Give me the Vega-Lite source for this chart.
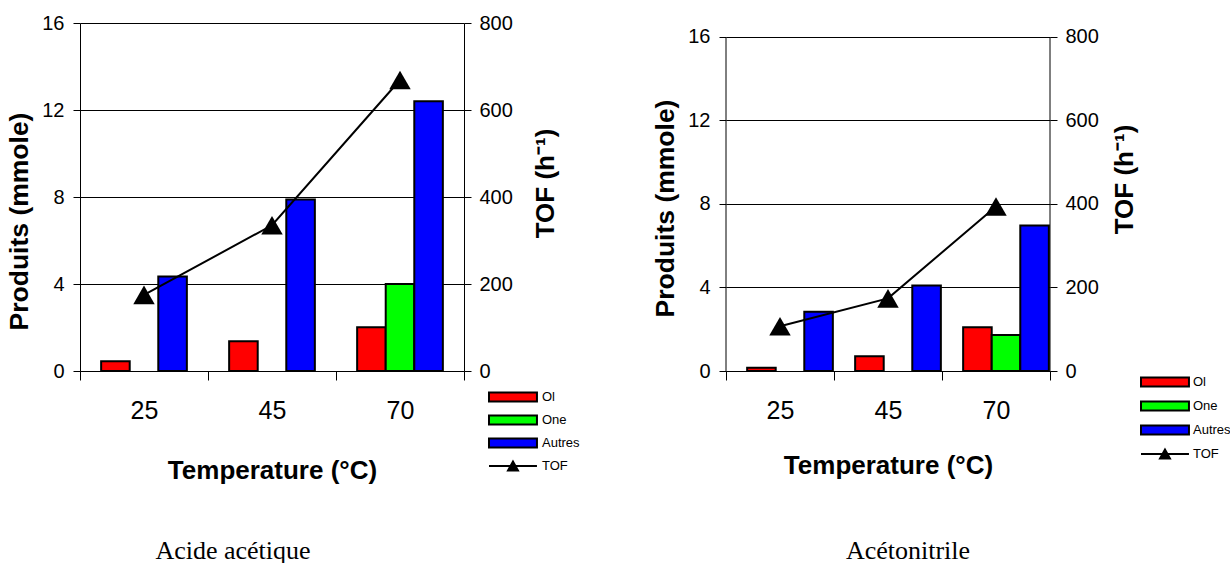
{
  "$schema": "https://vega.github.io/schema/vega-lite/v6.json",
  "background": "white",
  "padding": {"left": 6, "top": 13, "right": 0, "bottom": 0},
  "spacing": 72,
  "config": {
    "view": {"stroke": null},
    "font": "Liberation Sans",
    "axis": {"domainColor": "black", "tickColor": "black", "labelColor": "black", "titleColor": "black", "gridColor": "black", "gridOpacity": 1, "domainWidth": 1, "tickWidth": 1, "gridWidth": 1}
  },
  "datasets": {
    "acide_bars": [
      {"Temp": 25, "Produit": "Ol", "mmole": 0.45},
      {"Temp": 25, "Produit": "Autres", "mmole": 4.35},
      {"Temp": 45, "Produit": "Ol", "mmole": 1.37},
      {"Temp": 45, "Produit": "Autres", "mmole": 7.88},
      {"Temp": 70, "Produit": "Ol", "mmole": 2.01},
      {"Temp": 70, "Produit": "One", "mmole": 4.0},
      {"Temp": 70, "Produit": "Autres", "mmole": 12.4}
    ],
    "acide_tof": [
      {"Temp": 25, "TOF": 175},
      {"Temp": 45, "TOF": 335},
      {"Temp": 70, "TOF": 669}
    ],
    "aceto_bars": [
      {"Temp": 25, "Produit": "Ol", "mmole": 0.15},
      {"Temp": 25, "Produit": "Autres", "mmole": 2.84},
      {"Temp": 45, "Produit": "Ol", "mmole": 0.71},
      {"Temp": 45, "Produit": "Autres", "mmole": 4.09},
      {"Temp": 70, "Produit": "Ol", "mmole": 2.09},
      {"Temp": 70, "Produit": "One", "mmole": 1.72},
      {"Temp": 70, "Produit": "Autres", "mmole": 6.97}
    ],
    "aceto_tof": [
      {"Temp": 25, "TOF": 107},
      {"Temp": 45, "TOF": 174},
      {"Temp": 70, "TOF": 394}
    ]
  },
  "resolve": {"scale": {"color": "independent"}},
  "hconcat": [
    {
      "width": 384,
      "height": 348,
      "title": {"text": "Acide acétique", "orient": "bottom", "anchor": "middle", "frame": "group", "font": "Liberation Serif", "fontSize": 26, "fontWeight": "normal", "color": "black", "offset": 55, "dx": -39},
      "layer": [
        {
          "data": {"name": "acide_bars"},
          "mark": {"type": "bar", "stroke": "black", "strokeWidth": 2},
          "encoding": {
            "x": {"field": "Temp", "type": "ordinal", "scale": {"paddingInner": 0, "paddingOuter": 0},
              "axis": {"title": "Temperature (°C)", "titleFontSize": 26, "titleFontWeight": "bold", "titlePadding": 34, "labelFontSize": 25, "labelAngle": 0, "labelPadding": 18, "tickBand": "extent", "tickSize": 9, "grid": false}},
            "xOffset": {"field": "Produit", "scale": {"domain": ["Ol", "One", "Autres"], "paddingInner": 0, "paddingOuter": 0.74}},
            "y": {"field": "mmole", "type": "quantitative", "scale": {"domain": [0, 16]},
              "axis": {"title": "Produits (mmole)", "titleY": 198, "values": [0, 4, 8, 12, 16], "grid": true, "titleFontSize": 26.5, "titleFontWeight": "bold", "titlePadding": 8, "labelFontSize": 20, "labelPadding": 9, "tickSize": 7}},
            "color": {"field": "Produit", "type": "nominal",
              "scale": {"domain": ["Ol", "One", "Autres", "TOF"], "range": ["#ff0000", "#00ff00", "#0000ff", "#000000"]},
              "legend": {"orient": "none", "legendX": 408, "legendY": 362, "title": null, "padding": 0, "labelFontSize": 13, "labelColor": "black", "symbolSize": 484, "labelOffset": 30, "rowPadding": 2, "symbolStrokeWidth": 2, "symbolStrokeColor": "black",
                "encode": {"symbols": {"update": {"shape": {"signal": "datum.value === 'TOF' ? 'M-1,0H3.36M0.73,0.4L1.18,-0.4L1.63,0.4Z' : 'M-1,-0.4H3.36V0.4H-1Z'"}, "stroke": {"value": "black"}, "strokeWidth": {"value": 2}}}}}}
          }
        },
        {
          "data": {"name": "acide_tof"},
          "mark": {"type": "line", "color": "black", "strokeWidth": 2, "point": {"shape": "triangle-up", "size": 460, "filled": true, "color": "black", "opacity": 1}},
          "encoding": {
            "x": {"field": "Temp", "type": "ordinal"},
            "y": {"field": "TOF", "type": "quantitative", "scale": {"domain": [0, 800]},
              "axis": {"orient": "right", "title": "TOF (h⁻¹)", "titleAngle": 270, "titleY": 160, "values": [0, 200, 400, 600, 800], "grid": false, "titleFontSize": 26, "titleFontWeight": "bold", "titlePadding": 46, "labelFontSize": 20, "labelPadding": 8, "tickSize": 7}}
          }
        }
      ],
      "resolve": {"scale": {"y": "independent"}}
    },
    {
      "width": 324,
      "height": 348,
      "title": {"text": "Acétonitrile", "orient": "bottom", "anchor": "middle", "frame": "group", "font": "Liberation Serif", "fontSize": 26, "fontWeight": "normal", "color": "black", "offset": 60, "dx": 20},
      "layer": [
        {
          "data": {"name": "aceto_bars"},
          "mark": {"type": "bar", "stroke": "black", "strokeWidth": 2},
          "encoding": {
            "x": {"field": "Temp", "type": "ordinal", "scale": {"paddingInner": 0, "paddingOuter": 0},
              "axis": {"title": "Temperature (°C)", "titleFontSize": 26, "titleFontWeight": "bold", "titlePadding": 29, "labelFontSize": 25, "labelAngle": 0, "labelPadding": 18, "tickBand": "extent", "tickSize": 9, "grid": false}},
            "xOffset": {"field": "Produit", "scale": {"domain": ["Ol", "One", "Autres"], "paddingInner": 0, "paddingOuter": 0.7}},
            "y": {"field": "mmole", "type": "quantitative", "scale": {"domain": [0, 16.67]},
              "axis": {"title": "Produits (mmole)", "titleY": 185, "domain": false, "values": [0, 4, 8, 12, 16], "grid": true, "titleFontSize": 26.5, "titleFontWeight": "bold", "titlePadding": 8, "labelFontSize": 20, "labelPadding": 9, "tickSize": 7}},
            "color": {"field": "Produit", "type": "nominal",
              "scale": {"domain": ["Ol", "One", "Autres", "TOF"], "range": ["#ff0000", "#00ff00", "#0000ff", "#000000"]},
              "legend": {"orient": "none", "legendX": 414, "legendY": 347, "title": null, "padding": 0, "labelFontSize": 13, "labelColor": "black", "symbolSize": 484, "labelOffset": 29, "rowPadding": 3, "symbolStrokeWidth": 2, "symbolStrokeColor": "black",
                "encode": {"symbols": {"update": {"shape": {"signal": "datum.value === 'TOF' ? 'M-1,0H3.36M0.73,0.4L1.18,-0.4L1.63,0.4Z' : 'M-1,-0.4H3.36V0.4H-1Z'"}, "stroke": {"value": "black"}, "strokeWidth": {"value": 2}}}}}}
          }
        },
        {
          "data": {"name": "aceto_tof"},
          "mark": {"type": "line", "color": "black", "strokeWidth": 2, "point": {"shape": "triangle-up", "size": 460, "filled": true, "color": "black", "opacity": 1}},
          "encoding": {
            "x": {"field": "Temp", "type": "ordinal"},
            "y": {"field": "TOF", "type": "quantitative", "scale": {"domain": [0, 833.5]},
              "axis": {"orient": "right", "title": "TOF (h⁻¹)", "titleAngle": 270, "titleY": 156, "domain": false, "values": [0, 200, 400, 600, 800], "grid": false, "titleFontSize": 26, "titleFontWeight": "bold", "titlePadding": 39, "labelFontSize": 20, "labelPadding": 8, "tickSize": 7}}
          }
        },
        {
          "data": {"values": [{}]},
          "mark": {"type": "rule", "color": "black", "strokeWidth": 1},
          "encoding": {
            "x": {"datum": 25, "type": "ordinal", "bandPosition": 0},
            "y": {"datum": 0, "type": "quantitative", "scale": {"domain": [0, 16.67]}, "axis": null},
            "y2": {"datum": 16}
          }
        },
        {
          "data": {"values": [{}]},
          "mark": {"type": "rule", "color": "black", "strokeWidth": 1},
          "encoding": {
            "x": {"datum": 70, "type": "ordinal", "bandPosition": 1},
            "y": {"datum": 0, "type": "quantitative", "scale": {"domain": [0, 16.67]}, "axis": null},
            "y2": {"datum": 16}
          }
        }
      ],
      "resolve": {"scale": {"y": "independent"}}
    }
  ]
}
